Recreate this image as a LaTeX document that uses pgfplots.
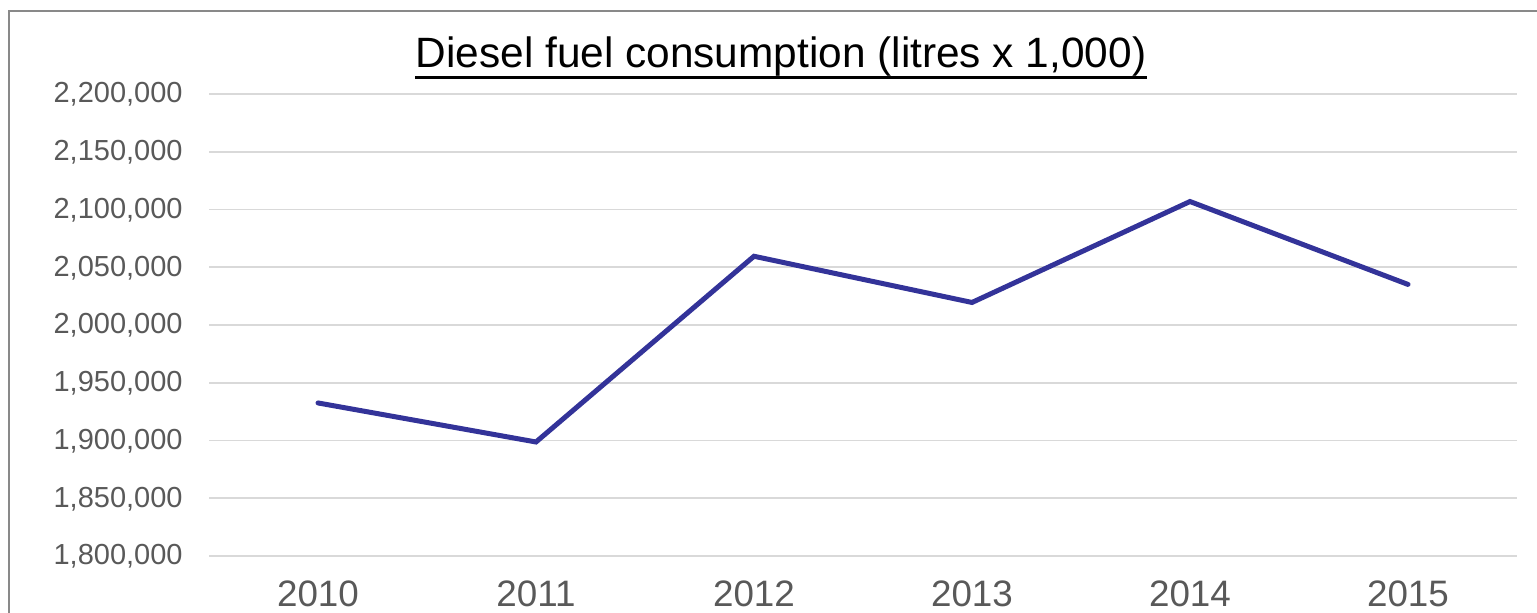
\documentclass[border=0pt]{standalone}
\usepackage{pgfplots}
\pgfplotsset{compat=1.18}
\usepackage{fontspec}
\setmainfont{Liberation Sans}
\definecolor{linecol}{RGB}{51,51,153}
\definecolor{gridcol}{RGB}{217,217,217}
\definecolor{tickcol}{RGB}{89,89,89}
\definecolor{framecol}{RGB}{137,137,137}
\begin{document}
\begin{tikzpicture}
\useasboundingbox (0,0) rectangle (768.5pt,306.5pt);
\clip (0,0) rectangle (768.5pt,306.5pt);
\draw[framecol, line width=1pt] (4.5pt,-20pt) rectangle (776.5pt,301pt);
\begin{axis}[
  at={(104.5pt,28.5pt)}, anchor=south west,
  scale only axis, width=654pt, height=231pt,
  xmin=-0.5, xmax=5.5, ymin=1800000, ymax=2200000,
  xtick={0,1,2,3,4,5},
  xticklabels={2010,2011,2012,2013,2014,2015},
  ytick={1800000,1850000,1900000,1950000,2000000,2050000,2100000,2150000,2200000},
  scaled y ticks=false,
  axis line style={draw=none},
  tick style={draw=none},
  major tick length=0pt,
  ymajorgrids,
  grid style={gridcol, line width=0.9pt},
  /pgf/number format/.cd, fixed, precision=0, 1000 sep={,}, assume math mode=true,
  /pgfplots/.cd,
  yticklabel style={font=\fontsize{14.5}{17}\selectfont, text=tickcol, anchor=base east, inner sep=0pt, xshift=-13pt, yshift=-4.5pt},
  xticklabel style={font=\fontsize{18.4}{22}\selectfont, text=tickcol, anchor=base, inner sep=0pt, yshift=-25.5pt},
  clip=false,
]
\addplot[linecol, line width=2.5pt, line cap=round, mark=none] coordinates {
  (0,1932500) (1,1898700) (2,2059500) (3,2019500) (4,2106900) (5,2035100)
};
\end{axis}
\node[anchor=base, inner sep=0pt, font=\fontsize{21.2}{25}\selectfont] (t) at (390.5pt,272.5pt) {Diesel fuel consumption (litres x 1,000)};
\draw[line width=1.5pt] ([yshift=-4.75pt]t.base west) -- ([yshift=-4.75pt]t.base east);
\end{tikzpicture}
\end{document}
